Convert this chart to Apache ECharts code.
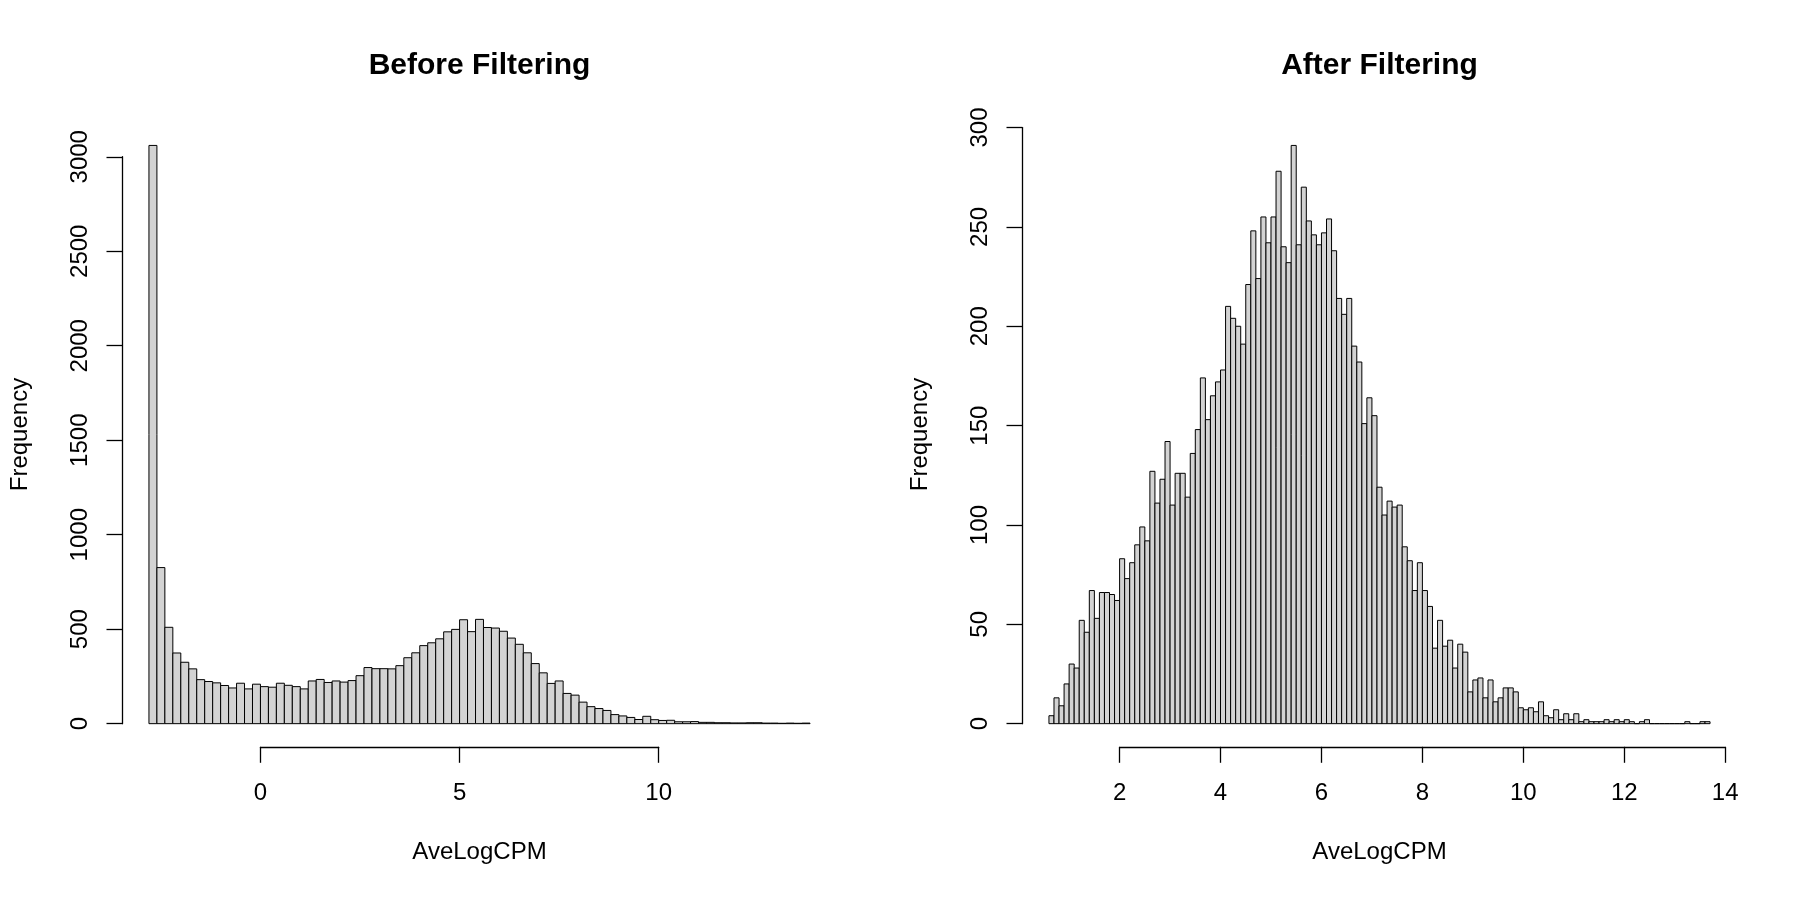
<!DOCTYPE html>
<html>
<head>
<meta charset="utf-8">
<script src="https://cdn.jsdelivr.net/npm/echarts@6/dist/echarts.min.js"></script>
<style>
  html, body { margin: 0; background: #fff; }
  #chart { width: 1800px; height: 900px; }
</style>
</head>
<body>
<div id="chart"></div>
<script>
// histogram bins: first break and bin width, then counts per bin
const beforeStart = -2.8;
const beforeWidth = 0.2;
const beforeCounts = [
  3060, 826, 510, 374, 325, 290, 233, 223, 216, 202, 189, 214, 184, 209,
  196, 193, 214, 203, 196, 184, 226, 234, 218, 226, 220, 228, 254, 297,
  291, 291, 290, 307, 349, 375, 413, 428, 449, 486, 499, 550, 487, 552,
  509, 506, 489, 453, 420, 375, 318, 269, 213, 226, 160, 151, 114, 90,
  80, 70, 48, 41, 33, 22, 39, 21, 17, 18, 10, 10, 11, 7, 7, 5, 5, 4, 4,
  5, 5, 3, 3, 2, 3, 2, 3
];

const afterStart = 0.6;
const afterWidth = 0.1;
const afterCounts = [
  4, 13, 9, 20, 30, 28, 52, 46, 67, 53, 66, 66, 65, 62, 83, 73, 81, 90,
  99, 92, 127, 111, 123, 142, 110, 126, 126, 114, 136, 148, 174, 153, 165,
  172, 178, 210, 204, 200, 191, 221, 248, 224, 255, 242, 255, 278, 240,
  232, 291, 241, 270, 253, 246, 241, 247, 254, 238, 214, 206, 214, 190,
  182, 151, 164, 155, 119, 105, 112, 109, 110, 89, 82, 67, 81, 67, 59, 38,
  52, 39, 42, 28, 40, 36, 16, 22, 23, 13, 22, 11, 13, 18, 18, 16, 8, 7, 8,
  6, 11, 4, 3, 7, 2, 5, 2, 5, 1, 2, 1, 1, 1, 2, 1, 2, 1, 2, 1, 0, 1, 2,
  0, 0, 0, 0, 0, 0, 0, 1, 0, 0, 1, 1
];

// tick ranges drawn by the axes: [from, to, step]
const beforeXTicks = [0, 10, 5];
const beforeYTicks = [0, 3000, 500];
const afterXTicks = [2, 14, 2];
const afterYTicks = [0, 300, 50];

const titles = ['Before Filtering', 'After Filtering'];
const xName = 'AveLogCPM';
const yName = 'Frequency';

const FONT = 'Liberation Sans, Arial, Helvetica, sans-serif';
const PLOT = { left: 122.5, top: 122.3, width: 714, height: 624.5 };

const chart = echarts.init(document.getElementById('chart'));

const grids = [], xAxes = [], yAxes = [], series = [], titleList = [];

function addPanel(i, start, width, counts, xt, yt) {
  const left = PLOT.left + i * 900;
  const top = PLOT.top, W = PLOT.width, H = PLOT.height;
  const xlo = start, xhi = start + counts.length * width;
  const xext = (xhi - xlo) * 0.04;
  const xmin = xlo - xext, xmax = xhi + xext;
  const cmax = Math.max(...counts);
  const ymin = -0.04 * cmax, ymax = 1.04 * cmax;
  const px = v => left + (v - xmin) / (xmax - xmin) * W;
  const py = c => top + (ymax - c) / (ymax - ymin) * H;

  const g = grids.length;
  // plot region with the bars
  grids.push({ left: left, top: top, width: W, height: H });
  // y axis, spanning only its tick range
  grids.push({ left: left, top: py(yt[1]), width: W, height: py(yt[0]) - py(yt[1]) });
  // x axis, spanning only its tick range
  grids.push({ left: px(xt[0]), top: top, width: px(xt[1]) - px(xt[0]), height: H });

  const lineStyle = { color: '#000', width: 1.3 };
  const labelStyle = { color: '#000', fontSize: 24, fontFamily: FONT };
  const plain = v => String(v);

  xAxes.push({
    gridIndex: g, type: 'value', min: xmin, max: xmax,
    axisLine: { show: false }, axisTick: { show: false }, axisLabel: { show: false },
    splitLine: { show: false },
    name: xName, nameLocation: 'middle', nameGap: 94,
    nameTextStyle: labelStyle
  });
  yAxes.push({
    gridIndex: g, type: 'value', min: ymin, max: ymax,
    axisLine: { show: false }, axisTick: { show: false }, axisLabel: { show: false },
    splitLine: { show: false },
    name: yName, nameLocation: 'middle', nameGap: 90,
    nameTextStyle: labelStyle
  });

  xAxes.push({ gridIndex: g + 1, type: 'value', min: 0, max: 1, show: false });
  yAxes.push({
    gridIndex: g + 1, type: 'value', min: yt[0], max: yt[1], interval: yt[2],
    axisLine: { show: true, lineStyle: lineStyle },
    axisTick: { show: true, inside: false, length: 16, lineStyle: lineStyle },
    axisLabel: Object.assign({ rotate: 90, margin: 30, showMinLabel: true, showMaxLabel: true, formatter: plain }, labelStyle),
    splitLine: { show: false }
  });

  xAxes.push({
    gridIndex: g + 2, type: 'value', position: 'bottom',
    min: xt[0], max: xt[1], interval: xt[2],
    axisLine: { show: true, onZero: false, lineStyle: lineStyle },
    axisTick: { show: true, inside: false, length: 16, lineStyle: lineStyle },
    axisLabel: Object.assign({ margin: 35, showMinLabel: true, showMaxLabel: true, formatter: plain }, labelStyle),
    splitLine: { show: false }
  });
  yAxes.push({ gridIndex: g + 2, type: 'value', min: 0, max: 1, show: false });

  series.push({
    type: 'custom',
    xAxisIndex: g, yAxisIndex: g,
    data: counts.map((c, k) => [start + k * width, start + (k + 1) * width, c]),
    encode: { x: [0, 1], y: 2 },
    renderItem: function (params, api) {
      const p0 = api.coord([api.value(0), api.value(2)]);
      const p1 = api.coord([api.value(1), 0]);
      return {
        type: 'rect',
        shape: { x: p0[0], y: p0[1], width: p1[0] - p0[0], height: p1[1] - p0[1] },
        style: { fill: '#d3d3d3', stroke: '#000', lineWidth: 1 }
      };
    },
    silent: true
  });

  titleList.push({
    text: titles[i], left: left + W / 2, top: 51, textAlign: 'center', padding: 0,
    textStyle: { fontSize: 30, fontWeight: 'bold', color: '#000', fontFamily: FONT }
  });
}

addPanel(0, beforeStart, beforeWidth, beforeCounts, beforeXTicks, beforeYTicks);
addPanel(1, afterStart, afterWidth, afterCounts, afterXTicks, afterYTicks);

chart.setOption({
  animation: false,
  backgroundColor: '#fff',
  textStyle: { fontFamily: FONT },
  title: titleList,
  grid: grids,
  xAxis: xAxes,
  yAxis: yAxes,
  series: series
});
</script>
</body>
</html>
